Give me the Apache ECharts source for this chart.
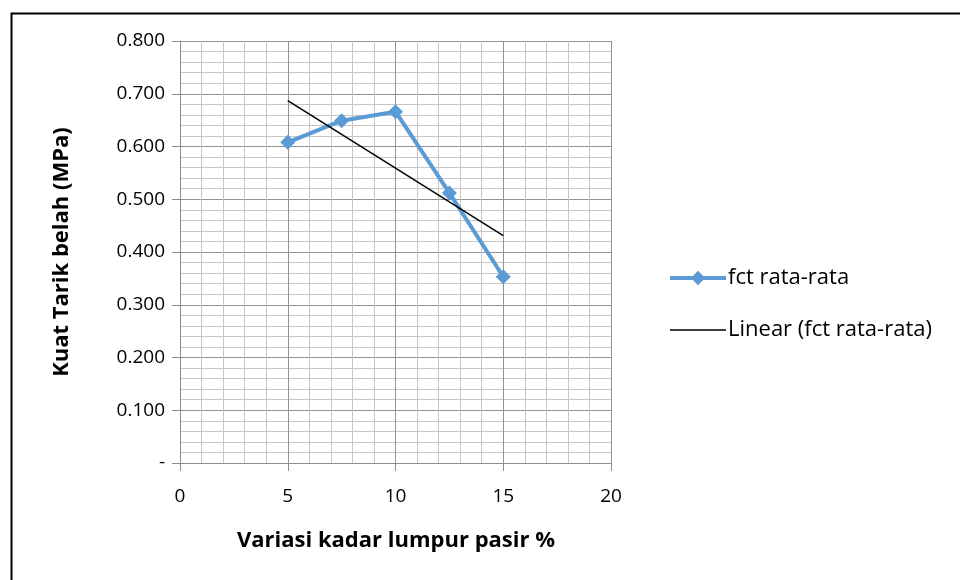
<!DOCTYPE html>
<html>
<head>
<meta charset="utf-8">
<script src="https://cdn.jsdelivr.net/npm/echarts@6/dist/echarts.min.js"></script>
<style>
html,body{margin:0;padding:0;background:#fff;}
#c{width:960px;height:580px;}
</style>
</head>
<body>
<div id="c"></div>
<script>
// Data
const xValues = [5, 7.5, 10, 12.5, 15];
const fctValues = [0.608, 0.649, 0.666, 0.512, 0.353];
const trendX = [5, 15];
const trendY = [0.687, 0.431];
const yTickLabels = ['-', '0.100', '0.200', '0.300', '0.400', '0.500', '0.600', '0.700', '0.800'];
const xTickLabels = ['0', '5', '10', '15', '20'];
const seriesNames = ['fct rata-rata', 'Linear (fct rata-rata)'];

const FONT = 'Open Sans';
const chart = echarts.init(document.getElementById('c'), null, {renderer: 'canvas'});

const option = {
  backgroundColor: '#fff',
  animation: false,
  grid: {left: 180, top: 41, width: 431, height: 422, containLabel: false},
  xAxis: {
    type: 'value', min: 0, max: 20, interval: 5,
    axisLine: {show: true, onZero: false, lineStyle: {color: '#8c8c8c', width: 1}},
    axisTick: {show: true, length: 8, lineStyle: {color: '#8c8c8c'}},
    minorTick: {show: false},
    splitLine: {show: true, lineStyle: {color: '#939393', width: 1}},
    minorSplitLine: {show: true, lineStyle: {color: '#c6c6c6', width: 1}},
    axisLabel: {
      margin: 24, fontSize: 19, color: '#000', fontFamily: FONT,
      formatter: function (v) { return xTickLabels[Math.round(v / 5)]; }
    }
  },
  yAxis: {
    type: 'value', min: 0, max: 0.8, interval: 0.1, splitNumber: 8,
    axisLine: {show: true, lineStyle: {color: '#8c8c8c', width: 1}},
    axisTick: {show: true, length: 8, lineStyle: {color: '#8c8c8c'}},
    splitLine: {show: true, lineStyle: {color: '#939393', width: 1}},
    minorSplitLine: {show: true, lineStyle: {color: '#c6c6c6', width: 1}},
    axisLabel: {
      margin: 15, fontSize: 19, color: '#000', fontFamily: FONT,
      formatter: function (v) { return yTickLabels[Math.round(v * 10)]; }
    }
  },
  legend: {
    orient: 'vertical', left: 663, top: 262,
    itemWidth: 56, itemHeight: 18, itemGap: 30,
    textStyle: {fontSize: 22, color: '#000', fontFamily: FONT, padding: [0, 0, 0, -3]},
    data: [
      {name: seriesNames[0], lineStyle: {width: 4, color: '#5b9bd5'}, itemStyle: {color: '#5b9bd5'}},
      {name: seriesNames[1], lineStyle: {width: 1.5, color: '#000'},
       itemStyle: {color: 'rgba(0,0,0,0)', borderWidth: 0, opacity: 0}}
    ]
  },
  series: [
    {
      name: seriesNames[0], type: 'line',
      data: xValues.map((x, i) => [x, fctValues[i]]),
      symbol: 'diamond', symbolSize: 15,
      lineStyle: {color: '#5b9bd5', width: 4},
      itemStyle: {color: '#5b9bd5'},
      z: 3
    },
    {
      name: seriesNames[1], type: 'line',
      data: trendX.map((x, i) => [x, trendY[i]]),
      symbol: 'none',
      lineStyle: {color: '#000', width: 1.5},
      itemStyle: {color: '#000'},
      z: 4
    }
  ],
  graphic: [
    {type: 'rect', left: 9, top: 11, shape: {width: 1000, height: 1000},
     style: {fill: 'none', stroke: '#000', lineWidth: 2}, silent: true},
    {type: 'text', x: 396, y: 541,
     style: {text: 'Variasi kadar lumpur pasir %', fontSize: 22, fontWeight: 'bold',
             fontFamily: FONT, fill: '#000', align: 'center', verticalAlign: 'middle'}},
    {type: 'text', x: 62, y: 252, rotation: Math.PI / 2,
     style: {text: 'Kuat Tarik belah (MPa)', fontSize: 22, fontWeight: 'bold',
             fontFamily: FONT, fill: '#000', align: 'center', verticalAlign: 'middle'}}
  ]
};
chart.setOption(option);
</script>
</body>
</html>
